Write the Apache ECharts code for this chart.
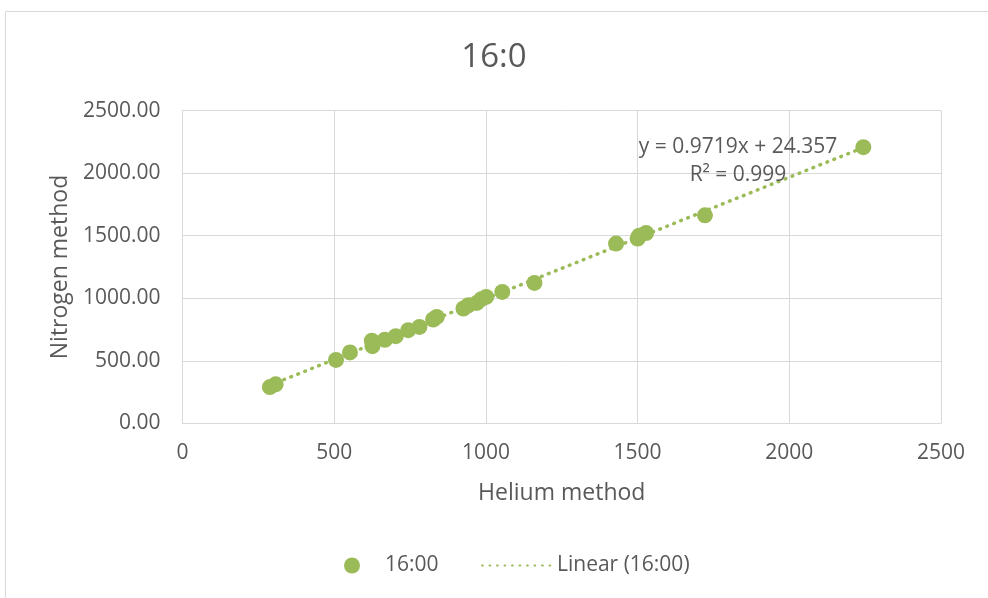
<!DOCTYPE html>
<html>
<head>
<meta charset="utf-8">
<script src="https://cdn.jsdelivr.net/npm/echarts@6/dist/echarts.min.js"></script>
<style>
  html, body { margin: 0; padding: 0; background: #fff; }
  #chart { width: 988px; height: 598px; }
</style>
</head>
<body>
<div id="chart"></div>
<script>
// Fatty acid 16:0 measured by two methods
const heliumValues = [288, 307, 506, 552, 624, 626, 667, 703, 744, 781, 826, 838, 926, 942, 970, 985, 1001, 1054, 1160, 1429, 1500, 1505, 1528, 1722, 2244];
const nitrogenValues = [290, 312, 507, 567, 660, 617, 668, 697, 745, 771, 830, 851, 918, 944, 963, 993, 1011, 1051, 1123, 1437, 1478, 1500, 1522, 1663, 2208];

// Linear trendline coefficients
const slope = 0.9719;
const intercept = 24.357;
const rSquared = 0.999;

const xTicks = [0, 500, 1000, 1500, 2000, 2500];
const yTicks = [0, 500, 1000, 1500, 2000, 2500];

const seriesName = '16:00';
const trendName = 'Linear (16:00)';

const points = heliumValues.map((h, i) => [h, nitrogenValues[i]]);
const xMin = Math.min(...heliumValues);
const xMax = Math.max(...heliumValues);
const trend = [[xMin, slope * xMin + intercept], [xMax, slope * xMax + intercept]];

const green = '#9BBB59';
const textColor = '#595959';
const gridColor = '#D9D9D9';
const font = 'Open Sans';

const dotted = { color: green, width: 3.5, type: [0.8, 6.7], cap: 'round' };

const chart = echarts.init(document.getElementById('chart'), null, { renderer: 'canvas' });

chart.setOption({
  animation: false,
  backgroundColor: '#fff',
  title: {
    text: '16:0',
    left: 'center',
    top: 36,
    textStyle: { fontFamily: font, fontSize: 33, fontWeight: 'normal', color: textColor }
  },
  grid: { left: 182.5, right: 47, top: 110.7, bottom: 174.7 },
  xAxis: {
    type: 'value',
    min: xTicks[0],
    max: xTicks[xTicks.length - 1],
    interval: xTicks[1] - xTicks[0],
    name: 'Helium method',
    nameLocation: 'middle',
    nameGap: 59,
    nameTextStyle: { fontFamily: font, fontSize: 23, color: textColor },
    axisLine: { show: true, lineStyle: { color: gridColor } },
    axisTick: { show: false },
    axisLabel: { fontFamily: font, fontSize: 21, color: textColor, margin: 19,
      formatter: v => String(v) },
    splitLine: { lineStyle: { color: gridColor, width: 1 } }
  },
  yAxis: {
    type: 'value',
    min: yTicks[0],
    max: yTicks[yTicks.length - 1],
    interval: yTicks[1] - yTicks[0],
    name: 'Nitrogen method',
    nameLocation: 'middle',
    nameGap: 108,
    nameTextStyle: { fontFamily: font, fontSize: 23, color: textColor },
    axisLine: { show: true, lineStyle: { color: gridColor } },
    axisTick: { show: false },
    axisLabel: { fontFamily: font, fontSize: 21, color: textColor, margin: 22,
      formatter: v => v.toFixed(2) },
    splitLine: { lineStyle: { color: gridColor, width: 1 } }
  },
  legend: [
    {
      data: [seriesName],
      left: 339,
      top: 550,
      itemWidth: 56,
      itemHeight: 16,
      icon: 'circle',
      textStyle: { fontFamily: font, fontSize: 21, color: textColor }
    },
    {
      data: [{ name: trendName, itemStyle: { opacity: 0 } }],
      left: 476,
      top: 550,
      itemWidth: 70,
      itemHeight: 16,
      textStyle: { fontFamily: font, fontSize: 21, color: textColor }
    }
  ],
  graphic: [
    {
      type: 'rect',
      shape: { x: 5.5, y: 11.5, width: 1000, height: 600 },
      style: { fill: null, stroke: gridColor, lineWidth: 1 },
      silent: true,
      z: -10
    },
    {
      type: 'text',
      x: 738, y: 147,
      style: {
        text: 'y = ' + slope + 'x + ' + intercept,
        fontFamily: font, fontSize: 21, fill: textColor,
        textAlign: 'center', textVerticalAlign: 'middle'
      },
      z: 100
    },
    {
      type: 'text',
      x: 738, y: 175,
      style: {
        text: 'R² = ' + rSquared,
        fontFamily: font, fontSize: 21, fill: textColor,
        textAlign: 'center', textVerticalAlign: 'middle'
      },
      z: 100
    }
  ],
  series: [
    {
      name: trendName,
      type: 'line',
      data: trend,
      symbol: 'none',
      z: 2,
      lineStyle: dotted,
      itemStyle: { color: green }
    },
    {
      name: seriesName,
      type: 'scatter',
      data: points,
      symbol: 'circle',
      symbolSize: 16,
      z: 3,
      itemStyle: { color: green, opacity: 1 }
    }
  ]
});
</script>
</body>
</html>
